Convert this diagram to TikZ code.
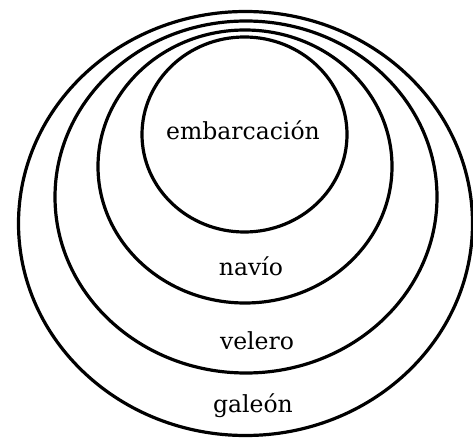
\documentclass[tikz,border=0pt]{standalone}
\usepackage{fontspec}
\setmainfont{DejaVu Serif}
\begin{document}
\begin{tikzpicture}[x=1pt,y=-1pt,line width=3.2pt]
\useasboundingbox (0,0) rectangle (473,438);
\tikzset{lbl/.style={font=\fontsize{23.5}{28}\selectfont,inner sep=0pt}}

\draw (244.5,134.5) ellipse [x radius=102.5, y radius=97.5];
\node[lbl] (emb) at (243,130) {embarcación};

\draw (245,166.5) ellipse [x radius=147, y radius=136.5];
\node[lbl] (navio) at (251,266) {navío};

\draw (246,197) ellipse [x radius=191, y radius=176];
\node[lbl] (velero) at (257,341) {velero};

\draw (245.5,223.5) ellipse [x radius=227, y radius=212];
\node[lbl] (galeon) at (253,406) {galeón};
\end{tikzpicture}
\end{document}
